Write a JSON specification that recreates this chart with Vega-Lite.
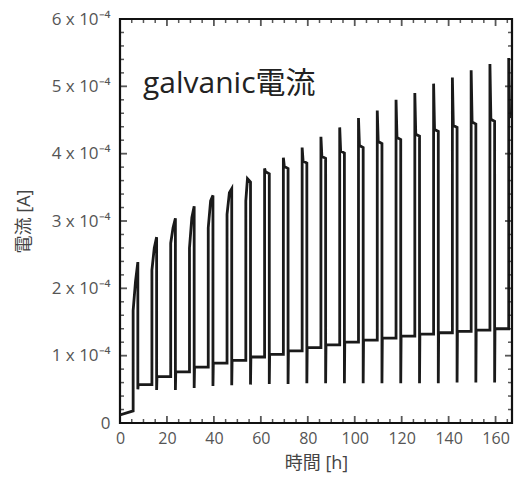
{
  "$schema": "https://vega.github.io/schema/vega-lite/v6.json",
  "width": 392,
  "height": 404,
  "autosize": {"type": "none"},
  "padding": {"left": 120, "top": 19, "right": 4, "bottom": 61},
  "background": "white",
  "config": {
    "view": {"stroke": "#111111", "strokeWidth": 2.2},
    "font": "Open Sans",
    "axis": {
      "grid": false,
      "domain": false,
      "ticks": false,
      "zindex": 0,
      "labelColor": "#555555",
      "labelFont": "Open Sans",
      "labelFontSize": 16,
      "titleColor": "#444444",
      "titleFont": "Open Sans, Noto Sans CJK JP",
      "titleFontSize": 18,
      "titleFontWeight": "normal",
      "labelOverlap": false,
      "labelFlush": false
    }
  },
  "datasets": {
    "note": [{"t": 9.8, "I": 0.000504, "label": "galvanic電流"}],
    "xMajor": [{"v": 0}, {"v": 20}, {"v": 40}, {"v": 60}, {"v": 80}, {"v": 100}, {"v": 120}, {"v": 140}, {"v": 160}],
    "xMinor": [{"v": 5}, {"v": 10}, {"v": 15}, {"v": 25}, {"v": 30}, {"v": 35}, {"v": 45}, {"v": 50}, {"v": 55}, {"v": 65}, {"v": 70}, {"v": 75}, {"v": 85}, {"v": 90}, {"v": 95}, {"v": 105}, {"v": 110}, {"v": 115}, {"v": 125}, {"v": 130}, {"v": 135}, {"v": 145}, {"v": 150}, {"v": 155}, {"v": 165}],
    "yMajor": [{"v": 0}, {"v": 0.0001}, {"v": 0.0002}, {"v": 0.0003}, {"v": 0.0004}, {"v": 0.0005}, {"v": 0.0006}],
    "yMinor": [{"v": 0.00002}, {"v": 0.00004}, {"v": 0.00006}, {"v": 0.00008}, {"v": 0.00012}, {"v": 0.00014}, {"v": 0.00016}, {"v": 0.00018}, {"v": 0.00022}, {"v": 0.00024}, {"v": 0.00026}, {"v": 0.00028}, {"v": 0.00032}, {"v": 0.00034}, {"v": 0.00036}, {"v": 0.00038}, {"v": 0.00042}, {"v": 0.00044}, {"v": 0.00046}, {"v": 0.00048}, {"v": 0.00052}, {"v": 0.00054}, {"v": 0.00056}, {"v": 0.00058}]
  },
  "encoding": {
    "x": {
      "type": "quantitative",
      "scale": {"domain": [0, 167], "nice": false, "zero": false},
      "axis": {
        "orient": "bottom",
        "title": "時間 [h]",
        "values": [0, 20, 40, 60, 80, 100, 120, 140, 160],
        "labelPadding": 7,
        "titlePadding": 8
      }
    },
    "y": {
      "type": "quantitative",
      "scale": {"domain": [0, 0.0006], "nice": false},
      "axis": {
        "orient": "left",
        "title": "電流 [A]",
        "values": [0, 0.0001, 0.0002, 0.0003, 0.0004, 0.0005, 0.0006],
        "labelExpr": "round(datum.value*10000) == 0 ? '0' : round(datum.value*10000) + ' x 10⁻⁴'",
        "labelFontSize": 17,
        "labelPadding": 10,
        "titlePadding": 18
      }
    }
  },
  "layer": [
    {
      "data": {
        "values": [
          {"t": 0, "I": 0.000012}, {"t": 5.6, "I": 0.000018},
          {"t": 5.6, "I": 0.000167}, {"t": 6.6, "I": 0.00021}, {"t": 7.6, "I": 0.000239}, {"t": 7.6, "I": 0.00005}, {"t": 7.75, "I": 0.000057}, {"t": 13.6, "I": 0.000057},
          {"t": 13.6, "I": 0.000227}, {"t": 14.6, "I": 0.00026}, {"t": 15.6, "I": 0.000276}, {"t": 15.6, "I": 0.000049}, {"t": 15.75, "I": 0.000069}, {"t": 21.6, "I": 0.000069},
          {"t": 21.6, "I": 0.000267}, {"t": 22.6, "I": 0.00029}, {"t": 23.6, "I": 0.000304}, {"t": 23.6, "I": 0.000049}, {"t": 23.75, "I": 0.000076}, {"t": 29.6, "I": 0.000076},
          {"t": 29.6, "I": 0.00026}, {"t": 30.6, "I": 0.000305}, {"t": 31.6, "I": 0.000322}, {"t": 31.6, "I": 0.000052}, {"t": 31.75, "I": 0.000083}, {"t": 37.6, "I": 0.000083},
          {"t": 37.6, "I": 0.00029}, {"t": 38.6, "I": 0.00033}, {"t": 39.6, "I": 0.000338}, {"t": 39.6, "I": 0.000055}, {"t": 39.75, "I": 0.000089}, {"t": 45.6, "I": 0.000089},
          {"t": 45.6, "I": 0.00031}, {"t": 46.6, "I": 0.000342}, {"t": 47.6, "I": 0.000348}, {"t": 47.6, "I": 0.000056}, {"t": 47.75, "I": 0.000093}, {"t": 53.6, "I": 0.000093},
          {"t": 53.6, "I": 0.00033}, {"t": 54.3, "I": 0.000363}, {"t": 55.6, "I": 0.000358}, {"t": 55.6, "I": 0.000057}, {"t": 55.75, "I": 0.000098}, {"t": 61.6, "I": 0.000098},
          {"t": 61.6, "I": 0.000378}, {"t": 62.0, "I": 0.000373}, {"t": 63.6, "I": 0.00037}, {"t": 63.6, "I": 0.000058}, {"t": 63.75, "I": 0.000102}, {"t": 69.6, "I": 0.000102},
          {"t": 69.6, "I": 0.000394}, {"t": 70.0, "I": 0.000381}, {"t": 71.6, "I": 0.000378}, {"t": 71.6, "I": 0.000058}, {"t": 71.75, "I": 0.000107}, {"t": 77.6, "I": 0.000107},
          {"t": 77.6, "I": 0.000409}, {"t": 78.0, "I": 0.000389}, {"t": 79.6, "I": 0.000386}, {"t": 79.6, "I": 0.000059}, {"t": 79.75, "I": 0.000112}, {"t": 85.6, "I": 0.000112},
          {"t": 85.6, "I": 0.000425}, {"t": 86.0, "I": 0.000396}, {"t": 87.6, "I": 0.000393}, {"t": 87.6, "I": 0.000059}, {"t": 87.75, "I": 0.000116}, {"t": 93.6, "I": 0.000116},
          {"t": 93.6, "I": 0.000439}, {"t": 94.0, "I": 0.000404}, {"t": 95.6, "I": 0.000401}, {"t": 95.6, "I": 0.000059}, {"t": 95.75, "I": 0.00012}, {"t": 101.6, "I": 0.00012},
          {"t": 101.6, "I": 0.000453}, {"t": 102.0, "I": 0.000412}, {"t": 103.6, "I": 0.000409}, {"t": 103.6, "I": 0.000059}, {"t": 103.75, "I": 0.000123}, {"t": 109.6, "I": 0.000123},
          {"t": 109.6, "I": 0.000464}, {"t": 110.0, "I": 0.000418}, {"t": 111.6, "I": 0.000415}, {"t": 111.6, "I": 0.000059}, {"t": 111.75, "I": 0.000126}, {"t": 117.6, "I": 0.000126},
          {"t": 117.6, "I": 0.00048}, {"t": 118.0, "I": 0.000424}, {"t": 119.6, "I": 0.000421}, {"t": 119.6, "I": 0.000059}, {"t": 119.75, "I": 0.000129}, {"t": 125.6, "I": 0.000129},
          {"t": 125.6, "I": 0.00049}, {"t": 126.0, "I": 0.000429}, {"t": 127.6, "I": 0.000426}, {"t": 127.6, "I": 0.000059}, {"t": 127.75, "I": 0.000132}, {"t": 133.6, "I": 0.000132},
          {"t": 133.6, "I": 0.000504}, {"t": 134.0, "I": 0.000436}, {"t": 135.6, "I": 0.000433}, {"t": 135.6, "I": 0.000059}, {"t": 135.75, "I": 0.000134}, {"t": 141.6, "I": 0.000134},
          {"t": 141.6, "I": 0.000513}, {"t": 142.0, "I": 0.000442}, {"t": 143.6, "I": 0.000439}, {"t": 143.6, "I": 0.00006}, {"t": 143.75, "I": 0.000136}, {"t": 149.6, "I": 0.000136},
          {"t": 149.6, "I": 0.000524}, {"t": 150.0, "I": 0.000447}, {"t": 151.6, "I": 0.000444}, {"t": 151.6, "I": 0.00006}, {"t": 151.75, "I": 0.000138}, {"t": 157.6, "I": 0.000138},
          {"t": 157.6, "I": 0.000533}, {"t": 158.0, "I": 0.000451}, {"t": 159.6, "I": 0.000448}, {"t": 159.6, "I": 0.00006}, {"t": 159.75, "I": 0.00014}, {"t": 165.6, "I": 0.00014},
          {"t": 165.6, "I": 0.000542}, {"t": 166.0, "I": 0.000456}, {"t": 167.5, "I": 0.000453}
        ]
      },
      "mark": {"type": "line", "color": "#1a1a1a", "strokeWidth": 2.8, "clip": true},
      "encoding": {
        "x": {"field": "t"},
        "y": {"field": "I"},
        "order": {"value": null}
      }
    },
    {
      "data": {"name": "note"},
      "mark": {"type": "text", "align": "left", "baseline": "middle", "fontSize": 30, "color": "#222222", "font": "Open Sans, Noto Sans CJK JP"},
      "encoding": {
        "x": {"field": "t"},
        "y": {"field": "I"},
        "text": {"field": "label"}
      }
    },
    {
      "data": {"name": "xMajor"},
      "mark": {"type": "tick", "orient": "vertical", "size": 7, "thickness": 1.8, "yOffset": -3.5, "color": "#111111"},
      "encoding": {"x": {"field": "v"}, "y": {"datum": 0}}
    },
    {
      "data": {"name": "xMajor"},
      "mark": {"type": "tick", "orient": "vertical", "size": 7, "thickness": 1.8, "yOffset": 3.5, "color": "#111111"},
      "encoding": {"x": {"field": "v"}, "y": {"datum": 0.0006}}
    },
    {
      "data": {"name": "xMinor"},
      "mark": {"type": "tick", "orient": "vertical", "size": 4, "thickness": 1.5, "yOffset": -2, "color": "#111111"},
      "encoding": {"x": {"field": "v"}, "y": {"datum": 0}}
    },
    {
      "data": {"name": "xMinor"},
      "mark": {"type": "tick", "orient": "vertical", "size": 4, "thickness": 1.5, "yOffset": 2, "color": "#111111"},
      "encoding": {"x": {"field": "v"}, "y": {"datum": 0.0006}}
    },
    {
      "data": {"name": "yMajor"},
      "mark": {"type": "tick", "orient": "horizontal", "size": 7, "thickness": 1.8, "xOffset": 3.5, "color": "#111111"},
      "encoding": {"y": {"field": "v"}, "x": {"datum": 0}}
    },
    {
      "data": {"name": "yMajor"},
      "mark": {"type": "tick", "orient": "horizontal", "size": 7, "thickness": 1.8, "xOffset": -3.5, "color": "#111111"},
      "encoding": {"y": {"field": "v"}, "x": {"datum": 167}}
    },
    {
      "data": {"name": "yMinor"},
      "mark": {"type": "tick", "orient": "horizontal", "size": 4, "thickness": 1.5, "xOffset": 2, "color": "#111111"},
      "encoding": {"y": {"field": "v"}, "x": {"datum": 0}}
    },
    {
      "data": {"name": "yMinor"},
      "mark": {"type": "tick", "orient": "horizontal", "size": 4, "thickness": 1.5, "xOffset": -2, "color": "#111111"},
      "encoding": {"y": {"field": "v"}, "x": {"datum": 167}}
    }
  ]
}
